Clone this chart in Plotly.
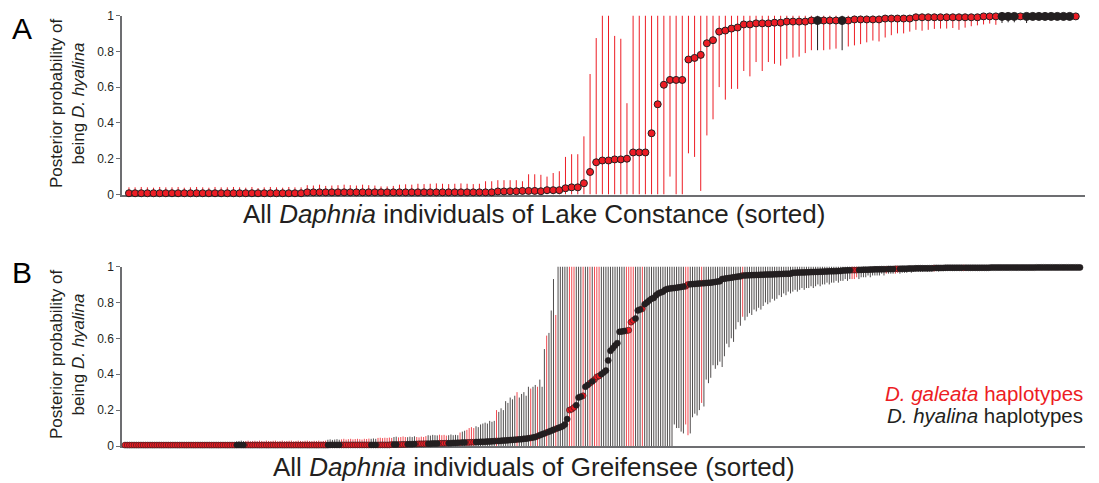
import plotly.graph_objects as go

# ---------------- Panel A: Lake Constance (155 individuals, sorted) ----------------
A_mean = [
    0.007,0.007,0.007,0.007,0.007,0.007,0.007,0.007,0.007,0.007,
    0.007,0.007,0.007,0.007,0.007,0.007,0.007,0.007,0.007,0.007,
    0.007,0.007,0.007,0.007,0.007,0.007,0.007,0.007,0.007,0.012,
    0.012,0.012,0.012,0.012,0.012,0.012,0.012,0.012,0.012,0.012,
    0.012,0.012,0.012,0.012,0.012,0.012,0.012,0.012,0.012,0.012,
    0.012,0.012,0.012,0.012,0.012,0.012,0.012,0.012,0.012,0.012,
    0.017,0.017,0.018,0.018,0.02,0.02,0.02,
    0.018,0.024,0.024,0.024,0.035,0.04,0.04,0.063,0.126,0.18,
    0.19,0.19,0.196,0.196,0.2,0.235,0.235,0.235,0.342,0.504,
    0.613,0.64,0.64,0.64,0.754,0.763,0.78,0.845,0.862,0.91,
    0.916,0.927,0.933,
    0.95,0.95,0.956,0.956,0.956,0.96,0.96,0.966,0.966,0.966,
    0.966,0.972,0.972,0.972,0.972,0.972,0.972,0.972,0.978,0.978,
    0.978,0.978,0.978,0.983,0.983,0.983,0.983,0.983,0.99,0.99,
    0.99,0.99,0.99,0.99,0.99,0.99,0.99,0.99,0.99,0.995,
    0.995,0.995,0.995,0.995,0.995,0.995,0.995,0.995,0.995,0.995,
    0.995,0.995,0.995,0.995,0.995,
]
A_lo = [
    0,0,0,0,0,0,0,0,0,0, 0,0,0,0,0,0,0,0,0,0,
    0,0,0,0,0,0,0,0,0,0, 0,0,0,0,0,0,0,0,0,0,
    0,0,0,0,0,0,0,0,0,0, 0,0,0,0,0,0,0,0,0,0,
    0,0,0,0,0,0,0,0,0,0, 0,0,0,0,0,0,0,0,0,0,
    0,0,0,0,0,0,0,0,0.1,0, 0,0.23,0.21,0.02,0.33,0.42,0.6,0.53,0.59,0.59,
    0.69,0.66,0.74,0.69,0.74,0.73,0.72,0.758,0.765,0.77,
    0.79,0.806,0.806,0.806,0.81,0.815,0.806,0.827,0.833,0.84,
    0.85,0.86,0.855,0.877,0.89,0.9,0.9,0.91,0.92,0.915,
    0.92,0.925,0.927,0.927,0.93,0.92,0.932,0.94,0.945,0.95,
    0.955,0.948,0.958,0.962,0.962,0.975,0.958,0.975,0.975,0.978,
    0.978,0.98,0.98,0.982,0.985,
]
A_hi = [
    0.04,0.04,0.042,0.04,0.038,0.042,0.04,0.04,0.042,0.038,
    0.04,0.042,0.04,0.038,0.042,0.04,0.04,0.042,0.04,0.038,
    0.042,0.036,0.04,0.042,0.04,0.038,0.042,0.04,0.04,0.052,
    0.05,0.055,0.048,0.05,0.052,0.055,0.052,0.05,0.055,0.052,
    0.05,0.045,0.045,0.048,0.055,0.057,0.055,0.06,0.058,0.06,
    0.062,0.06,0.058,0.06,0.062,0.06,0.058,0.06,0.074,0.074,
    0.08,0.08,0.08,0.08,0.074,0.113,0.113,
    0.11,0.1,0.12,0.13,0.21,0.225,0.225,0.325,0.673,0.874,
    1,1,0.886,0.87,0.51,1,1,1,1,1,
    1,1,1,1,1,1,1,1,1,1,
    1,1,1,
    1,1,1,1,1,1,1,1,1,1, 1,1,1,1,1,1,1,1,1,1,
    1,1,1,1,1,1,1,1,1,1, 1,1,1,1,1,1,1,1,1,1,
    1,1,1,1,1,1,1,1,1,1, 1,1,1,1,1,
]
A_hyalina_idx = [112, 116, 142, 143, 144, 146, 147, 148, 149, 150, 151, 152, 153]

# ---------------- Panel B: Greifensee (420 individuals, sorted) ----------------
B_mean = [
    0.005,0.005,0.005,0.005,0.005,0.005,0.005,0.005,0.005,0.005,0.005,0.005,0.005,0.005,0.005,0.005,0.005,0.005,0.005,0.005,
    0.005,0.005,0.005,0.005,0.005,0.005,0.005,0.005,0.005,0.005,0.005,0.005,0.005,0.005,0.005,0.005,0.005,0.005,0.005,0.005,
    0.005,0.005,0.005,0.005,0.005,0.005,0.005,0.005,0.005,0.005,0.005,0.005,0.005,0.005,0.005,0.005,0.005,0.005,0.005,0.005,
    0.005,0.005,0.005,0.005,0.005,0.005,0.005,0.005,0.005,0.005,0.005,0.005,0.005,0.005,0.005,0.005,0.005,0.005,0.005,0.005,
    0.005,0.005,0.005,0.005,0.005,0.005,0.005,0.005,0.005,0.005,0.006,0.006,0.006,0.006,0.006,0.006,0.006,0.006,0.006,0.006,
    0.006,0.006,0.006,0.006,0.006,0.006,0.006,0.006,0.006,0.006,0.006,0.006,0.006,0.006,0.006,0.006,0.006,0.008,0.008,0.008,
    0.008,0.008,0.009,0.009,0.01,0.01,0.01,0.011,0.011,0.012,0.012,0.012,0.013,0.013,0.013,0.014,0.014,0.014,0.015,0.015,
    0.015,0.016,0.016,0.016,0.017,0.017,0.018,0.018,0.019,0.019,0.02,0.02,0.021,0.021,0.022,0.022,0.023,0.023,0.024,0.025,
    0.025,0.026,0.027,0.028,0.028,0.029,0.03,0.031,0.032,0.033,0.034,0.035,0.036,0.037,0.038,0.04,0.041,0.043,0.045,0.047,
    0.05,0.055,0.06,0.065,0.07,0.075,0.08,0.085,0.09,0.095,0.1,0.105,0.11,0.12,0.15,0.2,0.205,0.215,0.227,0.27,
    0.275,0.28,0.33,0.34,0.35,0.36,0.37,0.385,0.39,0.4,0.41,0.42,0.477,0.53,0.545,0.56,0.573,0.636,0.638,0.64,
    0.642,0.645,0.69,0.7,0.71,0.755,0.76,0.765,0.79,0.8,0.81,0.82,0.825,0.84,0.85,0.855,0.86,0.87,0.875,0.877,
    0.879,0.88,0.882,0.884,0.886,0.888,0.89,0.9,0.901,0.902,0.903,0.904,0.905,0.906,0.907,0.908,0.909,0.91,0.912,0.914,
    0.916,0.918,0.93,0.932,0.934,0.936,0.938,0.94,0.942,0.944,0.945,0.95,0.95,0.951,0.951,0.952,0.952,0.953,0.953,0.954,
    0.954,0.955,0.955,0.956,0.956,0.957,0.957,0.958,0.958,0.959,0.959,0.96,0.96,0.965,0.965,0.966,0.966,0.967,0.967,0.968,
    0.968,0.969,0.969,0.97,0.97,0.971,0.971,0.972,0.972,0.973,0.973,0.974,0.974,0.975,0.975,0.978,0.978,0.979,0.979,0.98,
    0.98,0.98,0.981,0.981,0.982,0.982,0.982,0.983,0.983,0.984,0.984,0.984,0.985,0.985,0.985,0.986,0.986,0.986,0.987,0.987,
    0.987,0.988,0.988,0.988,0.989,0.989,0.989,0.99,0.99,0.99,0.99,0.99,0.99,0.99,0.99,0.992,0.992,0.992,0.992,0.992,
    0.993,0.993,0.993,0.993,0.993,0.993,0.993,0.993,0.993,0.993,0.993,0.993,0.993,0.993,0.993,0.993,0.993,0.993,0.993,0.993,
    0.994,0.994,0.994,0.994,0.994,0.994,0.994,0.994,0.994,0.994,0.994,0.994,0.994,0.994,0.994,0.994,0.994,0.994,0.994,0.994,
    0.995,0.995,0.995,0.995,0.995,0.995,0.995,0.995,0.995,0.995,0.995,0.995,0.995,0.995,0.995,0.995,0.995,0.995,0.995,0.995,
]
B_hi = [
    0.02,0.018,0.02,0.022,0.02,0.018,0.02,0.021,0.02,0.019,0.02,0.022,0.02,0.018,0.02,0.021,0.02,0.019,0.02,0.022,
    0.02,0.018,0.02,0.022,0.02,0.018,0.02,0.021,0.02,0.019,0.02,0.022,0.02,0.018,0.02,0.021,0.02,0.019,0.02,0.022,
    0.02,0.018,0.02,0.022,0.02,0.018,0.02,0.021,0.02,0.026,0.028,0.03,0.027,0.028,0.03,0.026,0.028,0.029,0.027,0.03,
    0.028,0.026,0.03,0.028,0.027,0.029,0.03,0.026,0.028,0.03,0.027,0.028,0.029,0.03,0.026,0.028,0.03,0.028,0.027,0.029,
    0.03,0.028,0.027,0.029,0.028,0.03,0.026,0.028,0.03,0.035,0.037,0.034,0.036,0.038,0.035,0.037,0.04,0.036,0.038,0.04,
    0.037,0.039,0.04,0.038,0.036,0.04,0.039,0.041,0.04,0.042,0.04,0.045,0.046,0.044,0.046,0.045,0.047,0.045,0.05,0.052,
    0.048,0.05,0.053,0.05,0.049,0.052,0.05,0.054,0.05,0.048,0.052,0.05,0.055,0.06,0.058,0.062,0.06,0.059,0.063,0.06,
    0.062,0.058,0.06,0.064,0.06,0.062,0.06,0.075,0.08,0.085,0.09,0.1,0.105,0.1,0.11,0.105,0.12,0.125,0.13,0.125,
    0.14,0.135,0.14,0.2,0.19,0.21,0.2,0.25,0.24,0.27,0.26,0.28,0.3,0.27,0.29,0.3,0.28,0.33,0.32,0.33,
    0.34,0.33,0.37,0.33,0.54,0.615,0.63,0.755,0.93,0.73,1,1,1,1,1,1,1,1,1,1,
    1,1,1,1,1,1,1,1,1,1,1,1,1,1,1,1,1,1,1,1,
    1,1,1,1,1,1,1,1,1,1,1,1,1,1,1,1,1,1,1,1,
    1,1,1,1,1,1,1,1,1,1,1,1,1,1,1,1,1,1,1,1,
    1,1,1,1,1,1,1,1,1,1,1,1,1,1,1,1,1,1,1,1,
    1,1,1,1,1,1,1,1,1,1,1,1,1,1,1,1,1,1,1,1,
    1,1,1,1,1,1,1,1,1,1,1,1,1,1,1,1,1,1,1,1,
    1,1,1,1,1,1,1,1,1,1,1,1,1,1,1,1,1,1,1,1,
    1,1,1,1,1,1,1,1,1,1,1,1,1,1,1,1,1,1,1,1,
    1,1,1,1,1,1,1,1,1,1,1,1,1,1,1,1,1,1,1,1,
    1,1,1,1,1,1,1,1,1,1,1,1,1,1,1,1,1,1,1,1,
    1,1,1,1,1,1,1,1,1,1,1,1,1,1,1,1,1,1,1,1,
]
B_lo = [
    0,0,0,0,0,0,0,0,0,0,0,0,0,0,0,0,0,0,0,0,
    0,0,0,0,0,0,0,0,0,0,0,0,0,0,0,0,0,0,0,0,
    0,0,0,0,0,0,0,0,0,0,0,0,0,0,0,0,0,0,0,0,
    0,0,0,0,0,0,0,0,0,0,0,0,0,0,0,0,0,0,0,0,
    0,0,0,0,0,0,0,0,0,0,0,0,0,0,0,0,0,0,0,0,
    0,0,0,0,0,0,0,0,0,0,0,0,0,0,0,0,0,0,0,0,
    0,0,0,0,0,0,0,0,0,0,0,0,0,0,0,0,0,0,0,0,
    0,0,0,0,0,0,0,0,0,0,0,0,0,0,0,0,0,0,0,0,
    0,0,0,0,0,0,0,0,0,0,0,0,0,0,0,0,0,0,0,0,
    0,0,0,0,0,0,0,0,0,0,0,0,0,0,0,0,0,0,0,0,
    0,0,0,0,0,0,0,0,0,0,0,0,0,0,0,0,0,0,0,0,
    0,0,0,0,0,0,0,0,0,0,0,0,0,0,0,0,0,0,0,0,
    0,0.12,0.1,0.1,0.08,0.07,0.12,0.06,0.07,0.16,0.18,0.17,0.2,0.24,0.22,0.37,0.35,0.38,0.45,0.43,
    0.45,0.47,0.44,0.5,0.57,0.55,0.6,0.58,0.65,0.69,0.67,0.72,0.7,0.72,0.74,0.73,0.76,0.75,0.77,0.76,
    0.78,0.8,0.79,0.8,0.82,0.81,0.82,0.84,0.83,0.85,0.84,0.86,0.85,0.86,0.87,0.86,0.87,0.88,0.87,0.88,
    0.88,0.89,0.88,0.89,0.9,0.89,0.9,0.9,0.91,0.9,0.91,0.91,0.92,0.91,0.92,0.92,0.93,0.92,0.93,0.93,
    0.93,0.94,0.93,0.94,0.94,0.94,0.95,0.94,0.95,0.95,0.95,0.95,0.96,0.95,0.96,0.96,0.96,0.96,0.96,0.965,
    0.96,0.965,0.965,0.965,0.97,0.965,0.97,0.97,0.97,0.97,0.97,0.972,0.97,0.972,0.972,0.972,0.975,0.972,0.975,0.975,
    0.975,0.975,0.976,0.975,0.976,0.976,0.977,0.976,0.977,0.977,0.978,0.977,0.978,0.978,0.978,0.979,0.978,0.979,0.979,0.98,
    0.98,0.98,0.98,0.981,0.98,0.981,0.981,0.982,0.981,0.982,0.982,0.982,0.983,0.982,0.983,0.983,0.983,0.984,0.983,0.984,
    0.984,0.984,0.985,0.984,0.985,0.985,0.985,0.986,0.985,0.986,0.986,0.986,0.987,0.986,0.987,0.987,0.987,0.988,0.987,0.988,
]
# index runs (first, last) of individuals carrying D. galeata haplotypes in panel B
B_galeata_runs = [(0,48),(53,88),(95,107),(111,117),(120,123),(128,132),(138,141),(147,147),
                  (150,153),(163,163),(172,172),(178,178),(181,181),(185,185),(189,189),(195,197),
                  (201,201),(204,204),(206,208),(220,223),(227,227),(246,247),(253,253),(271,271),
                  (319,321),(334,334),(338,339),(355,355),(368,368)]

yticks = [0, 0.2, 0.4, 0.6, 0.8, 1]
ytick_text = ["0", "0.2", "0.4", "0.6", "0.8", "1"]

assert len(A_mean) == len(A_lo) == len(A_hi) == 155, (len(A_mean), len(A_lo), len(A_hi))
assert len(B_mean) == len(B_lo) == len(B_hi) == 420, (len(B_mean), len(B_lo), len(B_hi))

RED = '#ed1c24'
DARK = '#231f20'
AXIS = '#6d6e71'
FONT = 'Liberation Sans, Arial, sans-serif'

B_galeata = set()
for a, b in B_galeata_runs:
    B_galeata.update(range(a, b + 1))
A_hy = set(A_hyalina_idx)

A_red = [i for i in range(len(A_mean)) if i not in A_hy]
A_blk = [i for i in range(len(A_mean)) if i in A_hy]
B_red = [i for i in range(len(B_mean)) if i in B_galeata]
B_blk = [i for i in range(len(B_mean)) if i not in B_galeata]


def segs(idx, lo, hi):
    xs, ys = [], []
    for i in idx:
        xs += [i, i, None]
        ys += [lo[i], hi[i], None]
    return xs, ys


fig = go.Figure()

for idx, col in ((A_red, RED), (A_blk, DARK)):
    xs, ys = segs(idx, A_lo, A_hi)
    fig.add_trace(go.Scatter(x=xs, y=ys, mode='lines', line=dict(color=col, width=1),
                             xaxis='x', yaxis='y', hoverinfo='skip', showlegend=False))
for idx, col, sz in ((A_red, RED, 7), (A_blk, DARK, 8)):
    fig.add_trace(go.Scatter(x=idx, y=[A_mean[i] for i in idx], mode='markers',
                             marker=dict(color=col, size=sz, line=dict(color=DARK, width=1)),
                             cliponaxis=False, xaxis='x', yaxis='y', showlegend=False))

for idx, col in ((B_blk, DARK), (B_red, RED)):
    xs, ys = segs(idx, B_lo, B_hi)
    fig.add_trace(go.Scatter(x=xs, y=ys, mode='lines', line=dict(color=col, width=0.8),
                             xaxis='x2', yaxis='y2', hoverinfo='skip', showlegend=False))
for idx, col in ((B_red, RED), (B_blk, DARK)):
    fig.add_trace(go.Scatter(x=idx, y=[B_mean[i] for i in idx], mode='markers',
                             marker=dict(color=col, size=6, line=dict(color=DARK, width=0.6)),
                             cliponaxis=False, xaxis='x2', yaxis='y2', showlegend=False))

W, H = 1099, 483
px = lambda v: v / W
py = lambda v: 1 - v / H

xdom = [px(122), px(1085)]
common_x = dict(showline=True, linecolor=AXIS, linewidth=1.5, showgrid=False, zeroline=False,
                showticklabels=False, ticks='', layer='below traces', automargin=False)
common_y = dict(showline=True, linecolor=AXIS, linewidth=1.5, showgrid=False, zeroline=False,
                ticks='outside', ticklen=4, tickwidth=1, tickcolor=AXIS, range=[0, 1],
                tickvals=yticks, ticktext=ytick_text, layer='below traces', automargin=False,
                tickfont=dict(family=FONT, size=12, color=DARK))

fig.update_layout(
    template='none',
    width=W, height=H, margin=dict(l=0, r=0, t=0, b=0, pad=0, autoexpand=False),
    paper_bgcolor='white', plot_bgcolor='white',
    font=dict(family=FONT, color=DARK),
    xaxis=dict(domain=xdom, range=[-1.13, 155.5], anchor='y', **common_x),
    yaxis=dict(domain=[py(194.5), py(15.5)], anchor='x', **common_y),
    xaxis2=dict(domain=xdom, range=[-1.32, 421.2], anchor='y2', **common_x),
    yaxis2=dict(domain=[py(446), py(266.5)], anchor='x2', **common_y),
)

ann = []
ann.append(dict(text='A', x=px(22), y=py(28), font=dict(size=30, color='black')))
ann.append(dict(text='B', x=px(22), y=py(272), font=dict(size=30, color='black')))
ytitle = 'Posterior probability of<br>being <i>D. hyalina</i>'
ann.append(dict(text=ytitle, x=px(67), y=py(104), textangle=-90, font=dict(size=17, color=DARK)))
ann.append(dict(text=ytitle, x=px(67), y=py(355), textangle=-90, font=dict(size=17, color=DARK)))
ann.append(dict(text='All <i>Daphnia</i> individuals of Lake Constance (sorted)',
                x=px(534), y=py(214), font=dict(size=26, color=DARK)))
ann.append(dict(text='All <i>Daphnia</i> individuals of Greifensee (sorted)',
                x=px(534), y=py(467), font=dict(size=26, color=DARK)))
ann.append(dict(text='<i>D. galeata</i> haplotypes', x=px(1085), y=py(393), xanchor='right',
                font=dict(size=20.5, color=RED)))
ann.append(dict(text='<i>D. hyalina</i> haplotypes', x=px(1085), y=py(415), xanchor='right',
                font=dict(size=20.5, color=DARK)))
for a in ann:
    a.setdefault('xanchor', 'center')
    a.update(xref='paper', yref='paper', yanchor='middle', showarrow=False,
             font=dict(family=FONT, **a['font']))
fig.update_layout(annotations=ann)

fig.write_html('out.html', config={'displayModeBar': False},
               post_script="document.body.style.margin='0px';")
